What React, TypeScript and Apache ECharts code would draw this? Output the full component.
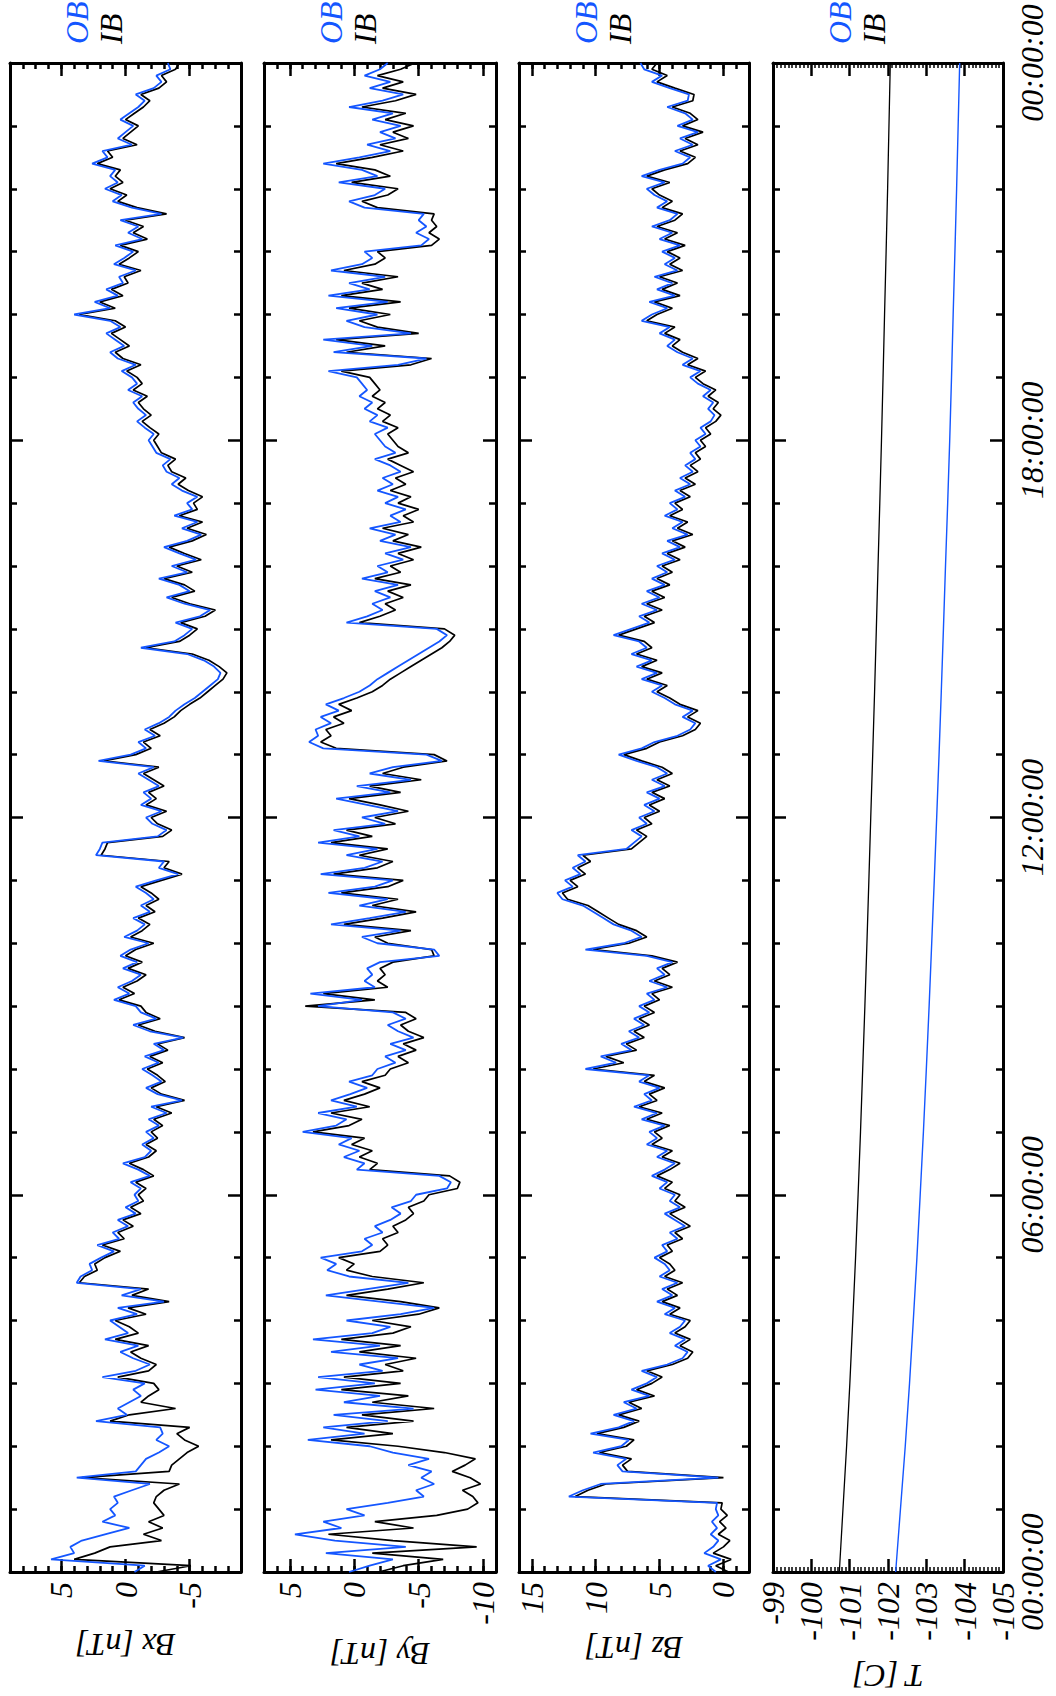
import React, { useEffect, useRef } from 'react';
import * as echarts from 'echarts';

// Sampling step of the magnetometer traces, in hours (0 .. 24 h)
const STEP_H = 0.1;

// Bx [nT]
const bxOB = [
  -0.7, -1.5, 5.8, 4.0, 4.3, 3.4, 1.6, -0.3, 1.8, 0.8,
  1.2, 0.6, 0.9, -0.5, -1.9, 3.8, -0.8, -1.2, -1.6, -2.6,
  -3.4, -2.4, -2.9, -2.7, 2.3, -0.1, 0.6, -0.3, -1.2, -0.6,
  -1.5, 1.8, -0.8, -1.9, -0.6, 0.4, -1.0, 1.6, -0.2, 0.5,
  1.2, -0.9, 0.6, -3.0, 0.3, -1.2, 3.8, 3.5, 2.6, 2.8,
  1.9, 0.9, 2.2, 0.5, 1.0, -0.2, 0.6, -0.8, 0.0, -1.0,
  -0.7, -1.2, -0.4, -1.9, -1.0, 0.2, -1.5, -2.0, -1.3, -2.2,
  -1.6, -2.6, -1.8, -3.2, -2.0, -4.4, -2.5, -1.6, -2.8, -2.1,
  -1.3, -2.6, -1.5, -3.0, -2.2, -4.5, -1.9, -0.6, -2.4, -1.2,
  -0.8, 0.9, -0.3, 0.6, -0.5, -1.2, 0.2, -0.9, 0.4, -0.4,
  -1.8, 0.1, -0.9, -1.5, -0.6, -1.9, -1.2, -2.2, -1.6, -0.8,
  -2.4, -4.1, -2.6, -3.0, 2.3, 2.0, 1.8, -2.5, -3.2, -2.1,
  -1.6, -2.8, -1.2, -2.0, -1.4, -2.6, -1.8, -1.0, -2.2, 2.1,
  -0.4, -1.6, -1.0, -2.3, -1.5, -2.6, -3.4, -3.9, -4.6, -5.4,
  -6.0, -6.6, -7.2, -7.4, -6.9, -6.1, -4.8, -1.2, -3.8, -4.6,
  -5.2, -3.9, -5.8, -6.6, -4.6, -3.2, -5.0, -4.2, -2.6, -4.8,
  -3.6, -5.5, -4.2, -3.0, -4.8, -5.9, -4.4, -5.6, -3.8, -5.2,
  -4.8, -5.6, -4.4, -3.6, -4.2, -3.2, -2.9, -3.5, -2.4, -2.1,
  -1.8, -2.2, -1.5, -0.9, -1.6, -1.0, -0.6, -1.3, -0.2, -0.9,
  -0.5, 0.3, -0.8, 0.6, 1.2, 0.1, 0.8, 1.5, 0.4, 1.2,
  4.0, 1.2, 2.4, 0.6, 1.5, 0.2, 0.5, -0.8, 0.9, 0.1,
  -0.6, 0.8, -1.3, -0.2, -1.0, 0.4, -2.8, -0.5, 1.0, 0.3,
  1.6, 0.6, 1.2, 0.8, 2.6, 1.4, 1.8, -0.5, 0.6, 0.0,
  -0.6, 0.4, -0.3, -1.0, -1.5, -0.8, -2.2, -2.8, -2.4, -3.5,
  -3.3,
];
const bxIB = [
  -2.4, -5.1, 4.0, 2.4, 1.2, -2.8, -1.4, -2.9, -1.8, -3.0,
  -2.6, -2.2, -2.4, -3.0, -4.2, 3.4, -3.4, -3.6, -4.2, -4.8,
  -5.7, -4.6, -4.0, -5.0, 1.2, -0.3, -3.9, -1.2, -1.8, -2.6,
  -2.2, 0.6, -1.8, -2.4, -1.2, -0.4, -1.8, 0.8, -1.0, -0.3,
  0.8, -1.6, -0.2, -3.4, -0.5, -1.8, 3.6, 3.2, 2.2, 2.4,
  1.6, 0.4, 1.8, 0.1, 0.6, -0.6, 0.2, -1.2, -0.4, -1.4,
  -1.0, -1.6, -0.8, -2.2, -1.4, -0.3, -1.8, -2.4, -1.6, -2.5,
  -2.0, -2.9, -2.2, -3.6, -2.4, -4.6, -2.8, -2.0, -3.1, -2.5,
  -1.7, -2.9, -1.9, -3.3, -2.5, -4.6, -2.3, -1.0, -2.7, -1.6,
  -1.2, 0.5, -0.7, 0.2, -0.9, -1.6, -0.2, -1.3, 0.0, -0.8,
  -2.2, -0.4, -1.3, -1.9, -1.0, -2.3, -1.6, -2.6, -2.0, -1.2,
  -2.8, -4.4, -3.0, -3.4, 1.9, 1.6, 1.4, -2.9, -3.6, -2.5,
  -2.0, -3.2, -1.6, -2.4, -1.8, -3.0, -2.2, -1.4, -2.6, 1.7,
  -0.8, -2.0, -1.4, -2.7, -1.9, -3.0, -3.8, -4.3, -5.0, -5.8,
  -6.4, -7.0, -7.6, -7.9, -7.3, -6.5, -5.2, -1.6, -4.2, -5.0,
  -5.6, -4.3, -6.2, -7.0, -5.0, -3.6, -5.4, -4.6, -3.0, -5.2,
  -4.0, -5.9, -4.6, -3.4, -5.2, -6.3, -4.8, -6.0, -4.2, -5.6,
  -5.3, -6.0, -4.9, -4.1, -4.7, -3.6, -3.3, -3.9, -2.8, -2.5,
  -2.2, -2.6, -1.9, -1.3, -2.0, -1.4, -1.0, -1.7, -0.6, -1.3,
  -0.9, -0.1, -1.2, 0.2, 0.8, -0.3, 0.4, 1.1, 0.0, 0.8,
  3.6, 0.8, 2.0, 0.2, 1.1, -0.2, 0.1, -1.2, 0.5, -0.3,
  -1.0, 0.4, -1.7, -0.6, -1.4, 0.0, -3.2, -0.9, 0.6, -0.1,
  1.2, 0.2, 0.8, 0.4, 2.2, 1.0, 1.4, -0.9, 0.2, -0.4,
  -1.0, 0.0, -0.7, -1.4, -1.9, -1.2, -2.6, -3.2, -2.8, -3.9,
  -4.2,
];

// By [nT]
const byOB = [
  0.4, -1.2, -3.0, 2.2, -4.0, 1.5, 4.6, 1.0, 2.4, -0.8,
  0.6, -2.6, -5.4, -4.8, -6.2, -5.2, -6.0, -4.2, -5.8, -3.0,
  -1.2, 3.6, -0.8, 2.4, -2.6, 1.6, -4.6, 0.8, -2.0, 3.0,
  -1.6, 2.8, -2.2, -0.4, -3.4, 1.8, -2.0, 3.2, -1.4, -2.8,
  0.6, -3.6, -6.2, -2.0, 2.2, -1.0, -4.2, 0.4, 2.1, 1.4,
  2.6, -0.6, -1.4, -0.8, -2.2, -1.6, -2.8, -3.6, -2.9, -4.4,
  -4.8, -7.2, -7.5, -6.6, -0.2, -0.8, 0.8, -0.4, 1.2, 0.2,
  4.0, 1.4, 0.6, 2.8, -0.2, 1.8, 0.3, -1.0, 0.4, -1.4,
  -1.8, -3.2, -2.4, -4.0, -2.8, -4.6, -3.4, -2.6, -4.0, -3.0,
  2.8, -0.6, 3.4, -1.6, -0.8, -1.4, -1.0, -2.0, -6.6, -6.2,
  -1.8, -0.6, -3.6, 1.8, -1.2, -4.0, -0.4, -2.6, 2.0, -1.6,
  -3.0, 2.6, -0.8, -2.2, 0.6, -1.8, 2.8, -0.4, 1.6, -2.4,
  -0.6, -3.4, -1.0, 1.4, -2.8, -0.2, -4.4, -1.2, -3.0, -6.8,
  -5.6, 2.4, 3.5, 2.8, 3.0, 1.8, 2.6, 1.2, 2.2, 0.8,
  -0.4, -1.2, -1.8, -2.6, -3.4, -4.2, -5.0, -5.8, -6.6, -7.2,
  -6.4, 0.6, -1.0, -2.2, -1.4, -2.8, -1.6, -3.4, -0.6, -2.6,
  -1.8, -3.8, -2.4, -4.4, -2.0, -3.2, -1.2, -3.6, -2.8, -4.0,
  -2.4, -3.4, -1.8, -3.0, -2.2, -3.6, -2.8, -1.6, -3.2, -2.4,
  -2.0, -1.6, -2.6, -1.2, -1.8, -0.8, -1.4, -0.4, -1.0, -0.6,
  -0.2, 2.0, -3.4, -5.6, 1.6, -1.4, 2.4, -4.4, -0.8, 0.6,
  -1.8, 1.4, -2.6, 2.0, -1.2, 0.4, -2.4, 1.8, -0.6, -1.4,
  -0.8, -5.2, -5.8, -4.8, -5.6, -5.0, -5.4, -0.8, 0.4, -1.6,
  -2.4, 1.2, -1.8, -0.6, 2.4, -0.4, -2.8, -1.0, -3.2, -2.0,
  -3.6, -1.4, -3.0, 0.4, -2.2, -3.8, -1.2, -2.8, -0.8, -2.0,
  -2.6,
];
const byIB = [
  -1.9, -3.8, -6.9, -1.4, -9.5, -3.0, 2.0, -4.6, -1.6, -6.4,
  -8.8, -9.6, -9.2, -8.4, -9.8, -9.0, -7.6, -8.6, -9.4, -7.0,
  -3.4, 1.8, -3.0, 0.6, -4.6, -0.6, -6.2, -1.4, -4.2, 1.0,
  -3.6, 0.8, -3.8, -2.4, -4.8, -0.4, -3.6, 1.0, -3.0, -4.4,
  -1.4, -5.0, -6.6, -3.6, 0.6, -2.6, -5.4, -1.4, 0.6, 0.0,
  1.2, -2.0, -2.6, -2.2, -3.4, -3.0, -4.0, -4.6, -4.2, -5.4,
  -5.8, -8.0, -8.2, -7.4, -1.2, -1.8, -0.4, -1.4, 0.2, -0.8,
  3.2, 0.4, -0.6, 1.8, -1.2, 0.8, -0.8, -2.0, -0.6, -2.4,
  -2.8, -4.2, -3.4, -4.8, -3.8, -5.4, -4.2, -3.6, -4.8, -4.0,
  3.8, -1.6, 2.4, -2.6, -1.8, -2.4, -2.0, -3.0, -6.2, -6.0,
  -2.6, -1.6, -4.4, 0.8, -2.2, -4.8, -1.4, -3.4, 1.0, -2.6,
  -3.8, 1.6, -1.8, -3.0, -0.4, -2.6, 1.8, -1.4, 0.6, -3.2,
  -1.6, -4.2, -2.0, 0.4, -3.6, -1.2, -5.2, -2.2, -3.8, -7.2,
  -6.2, 1.4, 2.6, 1.8, 2.2, 0.8, 1.6, 0.2, 1.2, -0.2,
  -1.4, -2.2, -2.8, -3.6, -4.4, -5.2, -6.0, -6.8, -7.4, -7.8,
  -7.0, -0.4, -2.0, -3.2, -2.4, -3.8, -2.6, -4.4, -1.6, -3.6,
  -2.8, -4.6, -3.4, -5.2, -3.0, -4.2, -2.2, -4.6, -3.8, -5.0,
  -3.4, -4.4, -2.8, -4.0, -3.2, -4.6, -3.6, -2.6, -4.2, -3.4,
  -3.0, -2.6, -3.4, -2.2, -2.8, -1.8, -2.4, -1.4, -2.0, -1.6,
  -1.2, 1.0, -4.4, -6.0, 0.6, -2.4, 1.4, -5.0, -1.8, -0.4,
  -2.8, 0.4, -3.6, 1.0, -2.2, -0.6, -3.4, 0.8, -1.6, -2.4,
  -1.8, -6.0, -6.6, -5.8, -6.4, -6.0, -6.2, -1.8, -0.6, -2.6,
  -3.4, 0.2, -2.8, -1.6, 1.4, -1.4, -3.8, -2.0, -4.2, -3.0,
  -4.6, -2.4, -4.0, -0.6, -3.2, -4.8, -2.2, -3.8, -1.8, -3.6,
  -4.7,
];

// Bz [nT]
const bzOB = [
  0.6, 1.2, 0.2, 1.5, 0.8, 0.4, 1.0, 0.5, 0.9, 0.4,
  0.6, 0.5, 12.1, 11.0, 9.6, 0.4, 7.9, 8.3, 7.6, 10.2,
  8.0, 7.4, 10.4, 8.2, 7.0, 8.6, 6.8, 7.8, 5.8, 7.2,
  6.0, 5.2, 6.4, 4.4, 3.2, 2.8, 3.8, 3.0, 4.2, 3.4,
  3.0, 4.6, 3.8, 5.2, 4.0, 4.8, 3.6, 5.0, 4.2, 4.6,
  5.4, 4.4, 4.8, 3.6, 4.2, 3.0, 3.8, 4.6, 3.4, 4.2,
  3.8, 5.0, 4.4, 5.6, 4.6, 3.8, 5.2, 4.4, 6.0, 5.2,
  5.8, 4.6, 6.4, 5.2, 7.0, 5.6, 6.2, 5.0, 6.6, 5.8,
  10.8, 8.4, 9.6, 7.2, 8.0, 6.6, 7.4, 6.2, 7.0, 5.8,
  6.6, 5.4, 6.0, 4.4, 5.8, 4.6, 5.2, 4.0, 6.0, 10.8,
  7.8, 6.4, 7.2, 8.6, 9.4, 10.2, 11.0, 12.6, 13.0, 11.8,
  12.4, 11.2, 11.8, 10.8, 11.4, 7.6, 7.0, 6.4, 7.2, 6.0,
  6.6, 5.4, 6.2, 5.0, 6.0, 4.6, 5.6, 4.4, 5.2, 6.8,
  8.2, 6.4, 5.4, 3.6, 2.6, 2.2, 3.2, 2.4, 3.8, 4.6,
  5.6, 4.8, 6.4, 5.2, 6.8, 5.6, 7.2, 6.0, 6.6, 8.6,
  7.2, 5.8, 6.6, 5.2, 6.4, 5.0, 6.0, 4.6, 5.6, 4.4,
  5.2, 3.8, 4.8, 3.4, 4.4, 2.8, 4.0, 3.2, 4.6, 3.6,
  4.2, 3.0, 3.8, 2.6, 3.4, 2.4, 3.0, 2.2, 2.6, 1.8,
  2.2, 1.4, 1.8, 1.0, 0.7, 1.2, 0.8, 1.6, 1.0, 2.0,
  2.6, 1.8, 3.2, 2.4, 3.6, 4.4, 3.8, 5.0, 4.2, 6.4,
  5.6, 4.4, 5.8, 3.8, 5.2, 4.0, 5.4, 3.6, 4.6, 3.8,
  4.8, 3.4, 5.0, 4.0, 5.6, 4.2, 3.6, 5.2, 4.4, 5.4,
  6.0, 4.6, 6.4, 5.0, 3.2, 2.6, 3.8, 2.4, 3.4, 2.0,
  3.6, 2.4, 3.0, 4.4, 2.8, 2.7, 4.2, 5.6, 4.8, 6.2,
  6.5,
];
const bzIB = [
  -0.4, 0.6, -0.6, 0.8, 0.0, -0.5, 0.4, -0.2, 0.3, -0.3,
  0.2, 0.1, 11.6, 10.6, 9.2, 0.0, 7.5, 7.9, 7.2, 9.7,
  7.6, 7.0, 9.9, 7.8, 6.6, 8.2, 6.4, 7.4, 5.4, 6.8,
  5.6, 4.8, 6.0, 4.0, 2.8, 2.4, 3.4, 2.6, 3.8, 3.0,
  2.6, 4.2, 3.4, 4.8, 3.6, 4.4, 3.2, 4.6, 3.8, 4.2,
  5.0, 4.0, 4.4, 3.2, 3.8, 2.6, 3.4, 4.2, 3.0, 3.8,
  3.4, 4.6, 4.0, 5.2, 4.2, 3.4, 4.8, 4.0, 5.6, 4.8,
  5.4, 4.2, 6.0, 4.8, 6.6, 5.2, 5.8, 4.6, 6.2, 5.4,
  10.2, 7.8, 9.2, 6.8, 7.6, 6.2, 7.0, 5.8, 6.6, 5.4,
  6.2, 5.0, 5.6, 4.0, 5.4, 4.2, 4.8, 3.6, 5.6, 10.2,
  7.4, 6.0, 6.8, 8.2, 9.0, 9.8, 10.6, 12.2, 12.6, 11.4,
  12.0, 10.8, 11.4, 10.4, 11.0, 7.2, 6.6, 6.0, 6.8, 5.6,
  6.2, 5.0, 5.8, 4.6, 5.6, 4.2, 5.2, 4.0, 4.8, 6.4,
  7.8, 6.0, 5.0, 3.2, 2.2, 1.8, 2.8, 2.0, 3.4, 4.2,
  5.2, 4.4, 6.0, 4.8, 6.4, 5.2, 6.8, 5.6, 6.2, 8.2,
  6.8, 5.4, 6.2, 4.8, 6.0, 4.6, 5.6, 4.2, 5.2, 4.0,
  4.8, 3.4, 4.4, 3.0, 4.0, 2.4, 3.6, 2.8, 4.2, 3.2,
  3.8, 2.6, 3.4, 2.2, 3.0, 2.0, 2.6, 1.8, 2.2, 1.4,
  1.8, 1.0, 1.4, 0.6, 0.2, 0.8, 0.4, 1.2, 0.6, 1.6,
  2.2, 1.4, 2.8, 2.0, 3.2, 4.0, 3.4, 4.6, 3.8, 6.0,
  5.2, 4.0, 5.4, 3.4, 4.8, 3.6, 5.0, 3.2, 4.2, 3.4,
  4.4, 3.0, 4.6, 3.6, 5.2, 3.8, 3.2, 4.8, 4.0, 5.0,
  5.6, 4.2, 6.0, 4.6, 2.8, 2.2, 3.4, 2.0, 3.0, 1.6,
  3.2, 2.0, 2.6, 4.0, 2.4, 2.3, 3.8, 5.2, 4.4, 5.6,
  5.2,
];

// Temperature [C], sampled every 2 h
const tempHours = [0, 2, 4, 6, 8, 10, 12, 14, 16, 18, 20, 22, 24];
const tempIB = [-100.73, -100.92, -101.08, -101.22, -101.34, -101.45, -101.55, -101.65, -101.74, -101.83, -101.91, -101.99, -102.06];
const tempOB = [-102.2, -102.45, -102.66, -102.84, -103.0, -103.14, -103.27, -103.39, -103.5, -103.61, -103.7, -103.79, -103.87];

// Tick labels
const bxLabels = [-5, 0, 5];
const byLabels = [-10, -5, 0, 5];
const bzLabels = [0, 5, 10, 15];
const timeTickHours = [0, 6, 12, 18, 24];

const BLUE = '#1456ff';
const FONT = 'Liberation Serif';
const FS = 32;

const times = bxOB.map((_, k) => Math.round(k * STEP_H * 100) / 100);

function range(a: number, b: number) {
  const r: number[] = [];
  for (let v = a; v <= b; v++) r.push(v);
  return r;
}

const GRID_TOP = 63;
const GRID_H = 1509;

const panels = [
  { left: 10, width: 231, min: -9, max: 9, labels: bxLabels, minor: range(-8, 8), ob: bxOB, ib: bxIB, name: 'Bx [nT]', nameY: 1645 },
  { left: 264, width: 232, min: -11, max: 7, labels: byLabels, minor: range(-10, 6), ob: byOB, ib: byIB, name: 'By [nT]', nameY: 1654 },
  { left: 519, width: 230, min: -2, max: 16, labels: bzLabels, minor: range(-1, 15), ob: bzOB, ib: bzIB, name: 'Bz [nT]', nameY: 1648 },
];

const labelStyle = { fontFamily: FONT, fontStyle: 'italic' as const, fontSize: FS, color: '#000' };

export default function App() {
  const ref = useRef<HTMLDivElement>(null);
  useEffect(() => {
    document.body.style.margin = '0';
    const chart = echarts.init(ref.current!, undefined, { renderer: 'svg' });

    const grids: any[] = [];
    const xAxes: any[] = [];
    const yAxes: any[] = [];
    const series: any[] = [];
    const graphics: any[] = [];

    const addYAxes = (gi: number, showLabels: boolean) => {
      const base = {
        gridIndex: gi, type: 'value', min: 0, max: 24, interval: 6,
        axisLine: { show: true, onZero: false, lineStyle: { color: '#000', width: 3 } },
        axisTick: { show: true, inside: true, length: 13, lineStyle: { color: '#000', width: 2.5 } },
        minorTick: { show: true, splitNumber: 6, length: 7, lineStyle: { color: '#000', width: 2.5 } },
        splitLine: { show: false }, minorSplitLine: { show: false },
      };
      const idx = yAxes.length;
      yAxes.push({ ...base, position: 'left', axisLabel: { show: false } });
      yAxes.push({
        ...base, position: 'right',
        axisLabel: showLabels ? {
          show: true, rotate: 90, margin: 13, ...labelStyle,
          customValues: timeTickHours,
          formatter: (v: number) => String(Math.round(v) % 24).padStart(2, '0') + ':00:00',
        } : { show: false },
      });
      return idx;
    };

    panels.forEach((p, gi) => {
      grids.push({ left: p.left, top: GRID_TOP, width: p.width, height: GRID_H, outerBoundsMode: 'none' });
      const xi = xAxes.length;
      const common = { gridIndex: gi, type: 'value', min: p.min, max: p.max, inverse: true, splitLine: { show: false } };
      for (const pos of ['bottom', 'top']) {
        xAxes.push({
          ...common, position: pos,
          axisLine: { show: true, onZero: false, lineStyle: { color: '#000', width: 3 } },
          axisTick: { show: true, inside: true, length: 13, customValues: p.labels, lineStyle: { color: '#000', width: 2.5 } },
          axisLabel: pos === 'bottom'
            ? { show: true, rotate: 90, margin: 10, customValues: p.labels, ...labelStyle }
            : { show: false },
        });
        xAxes.push({
          ...common, position: pos,
          axisLine: { show: false, onZero: false },
          axisTick: { show: true, inside: true, length: 6, customValues: p.minor, lineStyle: { color: '#000', width: 2.5 } },
          axisLabel: { show: false },
        });
      }
      const yi = addYAxes(gi, false);
      series.push({
        type: 'line', xAxisIndex: xi, yAxisIndex: yi, showSymbol: false, symbol: 'none',
        lineStyle: { color: '#000', width: 1.7 }, data: times.map((t, k) => [p.ib[k], t]),
      });
      series.push({
        type: 'line', xAxisIndex: xi, yAxisIndex: yi, showSymbol: false, symbol: 'none',
        lineStyle: { color: BLUE, width: 1.8 }, data: times.map((t, k) => [p.ob[k], t]),
      });
      graphics.push({
        type: 'text', x: p.left + p.width / 2, y: p.nameY, rotation: Math.PI,
        style: { text: p.name, font: `italic ${FS}px "${FONT}"`, fill: '#000', textAlign: 'center', textVerticalAlign: 'middle' },
      });
      graphics.push({
        type: 'text', x: p.left + 67, y: 44, rotation: Math.PI / 2,
        style: { text: 'OB', font: `italic ${FS}px "${FONT}"`, fill: BLUE, textAlign: 'left', textVerticalAlign: 'middle' },
      });
      graphics.push({
        type: 'text', x: p.left + 101, y: 44, rotation: Math.PI / 2,
        style: { text: 'IB', font: `italic ${FS}px "${FONT}"`, fill: '#000', textAlign: 'left', textVerticalAlign: 'middle' },
      });
    });

    // Temperature panel
    const tg = grids.length;
    const tLeft = 773, tWidth = 230;
    grids.push({ left: tLeft, top: GRID_TOP, width: tWidth, height: GRID_H, outerBoundsMode: 'none' });
    const txi = xAxes.length;
    for (const pos of ['bottom', 'top']) {
      xAxes.push({
        gridIndex: tg, type: 'value', min: -105, max: -99, interval: 1, inverse: true, position: pos,
        splitLine: { show: false }, minorSplitLine: { show: false },
        axisLine: { show: true, onZero: false, lineStyle: { color: '#000', width: 3 } },
        axisTick: { show: true, inside: true, length: 13, lineStyle: { color: '#000', width: 2.5 } },
        minorTick: { show: true, splitNumber: 10, length: 5, lineStyle: { color: '#000', width: 1.5 } },
        axisLabel: pos === 'bottom'
          ? { show: true, rotate: 90, margin: 10, showMinLabel: true, showMaxLabel: true, ...labelStyle }
          : { show: false },
      });
    }
    const tyi = addYAxes(tg, true);
    series.push({
      type: 'line', xAxisIndex: txi, yAxisIndex: tyi, showSymbol: false, symbol: 'none', smooth: true,
      lineStyle: { color: '#000', width: 1.3 }, data: tempHours.map((t, k) => [tempIB[k], t]),
    });
    series.push({
      type: 'line', xAxisIndex: txi, yAxisIndex: tyi, showSymbol: false, symbol: 'none', smooth: true,
      lineStyle: { color: BLUE, width: 1.4 }, data: tempHours.map((t, k) => [tempOB[k], t]),
    });
    graphics.push({
      type: 'text', x: tLeft + tWidth / 2, y: 1676, rotation: Math.PI,
      style: { text: 'T [C]', font: `italic ${FS}px "${FONT}"`, fill: '#000', textAlign: 'center', textVerticalAlign: 'middle' },
    });
    graphics.push({
      type: 'text', x: tLeft + 67, y: 44, rotation: Math.PI / 2,
      style: { text: 'OB', font: `italic ${FS}px "${FONT}"`, fill: BLUE, textAlign: 'left', textVerticalAlign: 'middle' },
    });
    graphics.push({
      type: 'text', x: tLeft + 101, y: 44, rotation: Math.PI / 2,
      style: { text: 'IB', font: `italic ${FS}px "${FONT}"`, fill: '#000', textAlign: 'left', textVerticalAlign: 'middle' },
    });

    chart.setOption({
      animation: false,
      backgroundColor: '#fff',
      grid: grids,
      xAxis: xAxes,
      yAxis: yAxes,
      series,
      graphic: graphics,
    });
    return () => chart.dispose();
  }, []);
  return <div ref={ref} style={{ width: 1056, height: 1696 }} />;
}
